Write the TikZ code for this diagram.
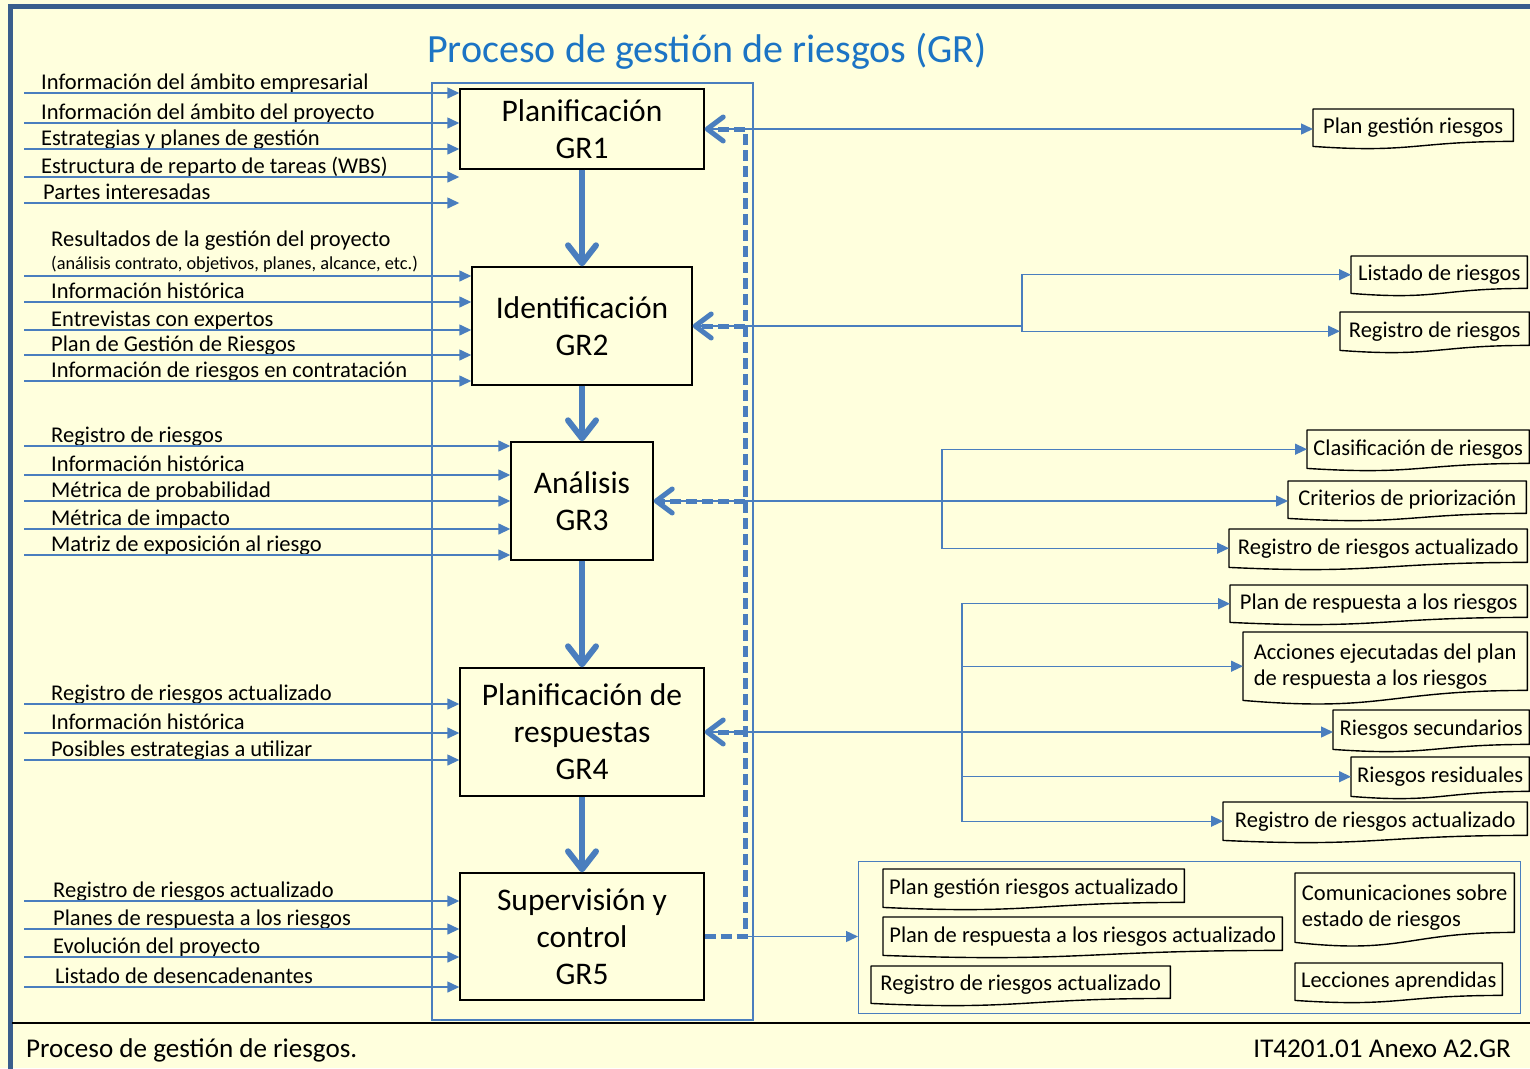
\documentclass[tikz,border=0pt]{standalone}
\usepackage{fontspec}
\setmainfont{Carlito}
\usetikzlibrary{arrows.meta,calc}
\definecolor{bgc}{HTML}{FFFFDD}
\definecolor{framec}{HTML}{3A5E8C}
\definecolor{lnc}{HTML}{4A7EBE}
\definecolor{ttlc}{HTML}{1C74C4}
\newcommand\fin{\fontsize{22.6}{26}\selectfont}
\newcommand\fsmall{\fontsize{18.4}{21}\selectfont}
\newcommand\fproc{\fontsize{31.6}{37}\selectfont}
\newcommand\ftitle{\fontsize{40.2}{46}\selectfont}
\newcommand\ffoot{\fontsize{27.2}{30}\selectfont}
\tikzset{
 inl/.style={draw=lnc, line width=1.4bp, -{Triangle[length=12bp,width=11bp]}},
 thinl/.style={draw=lnc, line width=1.4bp},
 intext/.style={anchor=base west, inner sep=0, font=\fin},
 proc/.style={draw=black, line width=1.4bp, align=center, font=\fproc, inner sep=0},
 flow/.style={draw=lnc, line width=6bp, -{Straight Barb[length=18bp,width=28bp,round]}},
 fb/.style={draw=lnc, line width=5bp, dash pattern=on 11bp off 5bp},
 fbarr/.style={fb, -{Straight Barb[length=16bp,width=24bp,round]}},
 docn/.style={inner sep=0, font=\fin, align=left},
 docl/.style={draw=black, line width=1.4bp, line join=round},
}
% name, x, y, W, H, up, down, text
\newcommand\docnode[8]{%
 \node[docn, minimum width=#4bp, minimum height=#5bp, anchor=north west] (#1) at (#2,#3) {#8};
 \draw[docl] (#1.south west) -- (#1.north west) -- (#1.north east) -- ($(#1.south east)+(0,-#6)$)
   .. controls ($(#1.south)+(0,-#6)$) and ($(#1.south)+(0,#7)$) .. (#1.south west) -- cycle;}
% name, text x, line y, text, target
\newcommand\inp[5]{%
 \coordinate (#1s) at (24,#3);
 \node[intext] (#1) at (#2,#3-4) {#4};
 \draw[inl] (#1s) -- (#1s -| #5.west);}
\begin{document}
\begin{tikzpicture}[x=1bp,y=-1bp]
\fill[bgc] (0,0) rectangle (1530,1068);
\useasboundingbox (0,0) rectangle (1530,1068);
\draw[framec, line width=5bp] (10,1075) -- (10,6.5) -- (1540,6.5);
\node[font=\ftitle, text=ttlc] (title) at (707,51.5) {Proceso de gestión de riesgos (GR)};
\draw[thinl] (432,83) rectangle (753,1020);

% process boxes
\node[proc, minimum width=244bp, minimum height=80bp] (gr1) at (582,129) {Planificación\\GR1};
\node[proc, minimum width=220bp, minimum height=118bp] (gr2) at (582,326) {Identificación\\GR2};
\node[proc, minimum width=142bp, minimum height=118bp] (gr3) at (582,501) {Análisis\\GR3};
\node[proc, minimum width=244bp, minimum height=128bp] (gr4) at (582,732) {Planificación de\\respuestas\\GR4};
\node[proc, minimum width=244bp, minimum height=127bp] (gr5) at (582,936.5) {Supervisión y\\control\\GR5};

\draw[flow] (gr1.south) -- (gr2.north);
\draw[flow] (gr2.south) -- (gr3.north);
\draw[flow] (gr3.south) -- (gr4.north);
\draw[flow] (gr4.south) -- (gr5.north);

% inputs
\inp{a1}{41}{93}{Información del ámbito empresarial}{gr1}
\inp{a2}{41}{123}{Información del ámbito del proyecto}{gr1}
\inp{a3}{41}{149}{Estrategias y planes de gestión}{gr1}
\inp{a4}{41}{177}{Estructura de reparto de tareas (WBS)}{gr1}
\inp{a5}{43}{203}{Partes interesadas}{gr1}

\node[intext] (b0) at (51,246) {Resultados de la gestión del proyecto};
\node[anchor=base west, inner sep=0, font=\fsmall] (b0b) at (51,269) {(análisis contrato, objetivos, planes, alcance, etc.)};
\coordinate (b0s) at (24,276);
\draw[inl] (b0s) -- (b0s -| gr2.west);
\inp{b1}{51}{302}{Información histórica}{gr2}
\inp{b2}{51}{330}{Entrevistas con expertos}{gr2}
\inp{b3}{51}{355}{Plan de Gestión de Riesgos}{gr2}
\inp{b4}{51}{381}{Información de riesgos en contratación}{gr2}

\inp{c1}{51}{446}{Registro de riesgos}{gr3}
\inp{c2}{51}{475}{Información histórica}{gr3}
\inp{c3}{51}{501}{Métrica de probabilidad}{gr3}
\inp{c4}{51}{529}{Métrica de impacto}{gr3}
\inp{c5}{51}{555}{Matriz de exposición al riesgo}{gr3}

\inp{d1}{51}{704}{Registro de riesgos actualizado}{gr4}
\inp{d2}{51}{733}{Información histórica}{gr4}
\inp{d3}{51}{760}{Posibles estrategias a utilizar}{gr4}

\inp{e1}{53}{901}{Registro de riesgos actualizado}{gr5}
\inp{e2}{53}{929}{Planes de respuesta a los riesgos}{gr5}
\inp{e3}{53}{957}{Evolución del proyecto}{gr5}
\inp{e4}{55}{987}{Listado de desencadenantes}{gr5}

% output documents
\docnode{pgr}{1313}{109}{200}{37}{5}{7}{Plan gestión riesgos}
\docnode{listado}{1351}{256}{176}{37}{5}{7}{Listado de riesgos}
\docnode{registro}{1340}{312}{189}{38}{5}{7}{Registro de riesgos}
\docnode{clasif}{1307}{430}{222}{38}{5}{7}{Clasificación de riesgos}
\docnode{criterios}{1288}{481}{238}{37}{5}{7}{Criterios de priorización}
\docnode{reg3}{1229}{529}{298}{38}{5}{7}{Registro de riesgos actualizado}
\docnode{plan4}{1230}{585}{297}{37}{5}{7}{Plan de respuesta a los riesgos}
\docnode{acciones}{1243}{632}{284}{68}{10}{12}{Acciones ejecutadas del plan\\de respuesta a los riesgos}
\docnode{secund}{1333}{710}{196}{39}{5}{7}{Riesgos secundarios}
\docnode{resid}{1351}{757}{178}{39}{5}{7}{Riesgos residuales}
\docnode{reg4}{1223}{802}{304}{38}{5}{7}{Registro de riesgos actualizado}

\node[draw=lnc, line width=1.4bp, minimum width=662bp, minimum height=152bp, anchor=north west, inner sep=0] (outbox) at (858,861) {};
\docnode{pga}{883}{869}{301}{38}{5}{7}{Plan gestión riesgos actualizado}
\docnode{pra}{883}{917}{399}{38}{5}{7}{Plan de respuesta a los riesgos actualizado}
\docnode{rra}{871}{966}{299}{37}{5}{7}{Registro de riesgos actualizado}
\docnode{com}{1295}{873}{219}{69}{10}{12}{Comunicaciones sobre\\estado de riesgos}
\docnode{lec}{1295}{963}{207}{37}{5}{7}{Lecciones aprendidas}

% output connectors
\coordinate (fbx) at (745,0);
\coordinate (j2) at (1022,0);
\coordinate (j3) at (942,0);
\coordinate (j4) at (962,0);
\draw[inl] (gr1.east) -- (gr1.east -| pgr.west);
\draw[thinl] (gr2.east) -- (gr2.east -| j2);
\draw[inl] (gr2.east -| j2) |- (listado.west);
\draw[inl] (gr2.east -| j2) |- (registro.west);
\draw[inl] (gr3.east) -- (gr3.east -| criterios.west);
\draw[inl] (gr3.east -| j3) |- (clasif.west);
\draw[inl] (gr3.east -| j3) |- (reg3.west);
\draw[inl] (gr4.east) -- (gr4.east -| secund.west);
\draw[inl] (gr4.east -| j4) |- (plan4.west);
\draw[inl] (gr4.east -| j4) |- (acciones.west);
\draw[inl] (gr4.east -| j4) |- (resid.west);
\draw[inl] (gr4.east -| j4) |- (reg4.west);
\draw[inl] (gr5.east -| fbx) -- (gr5.east -| outbox.west);

% feedback
\draw[fb] (gr5.east) -- (gr5.east -| fbx) -- (gr1.east -| fbx);
\draw[fbarr] (gr1.east -| fbx) -- (gr1.east);
\draw[fbarr] (gr2.east -| fbx) -- (gr2.east);
\draw[fbarr] (gr3.east -| fbx) -- (gr3.east);
\draw[fbarr] (gr4.east -| fbx) -- (gr4.east);

% footer
\draw[black, line width=1.5bp] (12,1023) -- (1540,1023);
\node[anchor=base west, font=\ffoot, inner sep=0] (foot) at (26,1057) {Proceso de gestión de riesgos.};
\node[anchor=base east, font=\ffoot, inner sep=0] (code) at (1511,1057) {IT4201.01 Anexo A2.GR};
\end{tikzpicture}
\end{document}
